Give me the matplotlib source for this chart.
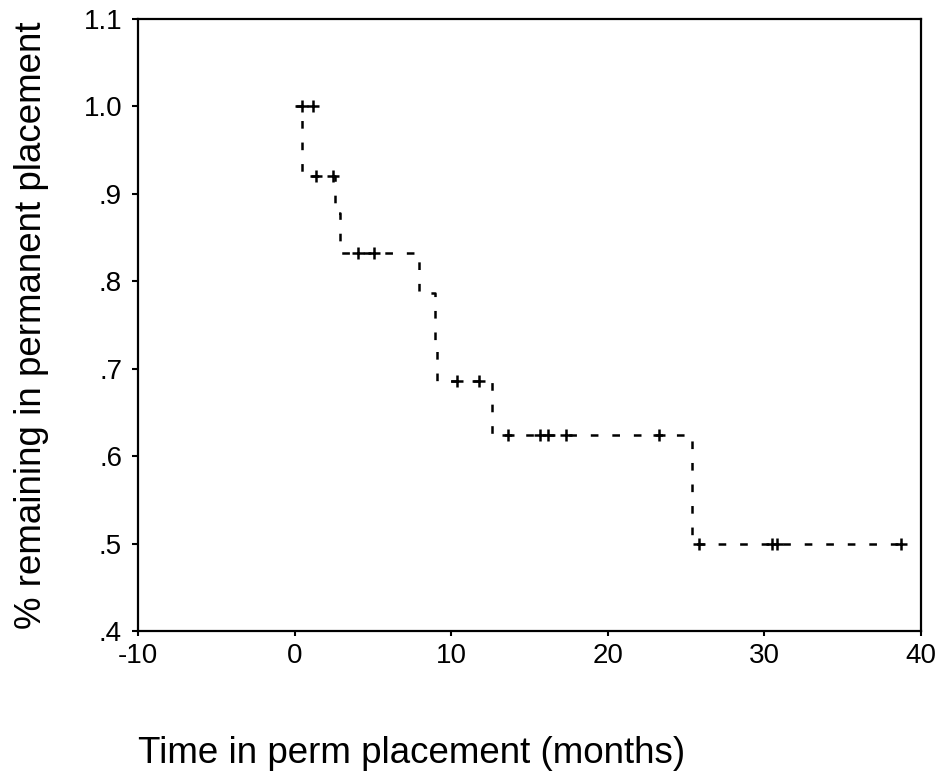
import numpy as np
import matplotlib
matplotlib.use('Agg')
import matplotlib.pyplot as plt

plt.rcParams['font.family'] = ['Liberation Sans', 'DejaVu Sans']
plt.rcParams['lines.scale_dashes'] = False

# Kaplan-Meier step: event times and survival level after each event
event_times = [0.5, 2.56, 2.88, 7.92, 8.95, 9.07, 12.6, 25.4]
surv_after = [0.920, 0.878, 0.832, 0.787, 0.733, 0.686, 0.624, 0.500]
end_time = 38.7

# censored observations (time, level)
cens_times = [0.5, 1.2, 1.34, 2.43, 4.03, 5.05, 10.4, 11.8,
              13.6, 15.65, 16.2, 17.3, 23.3, 25.8, 30.5, 30.8, 38.7]
cens_levels = [1.0, 1.0, 0.920, 0.920, 0.832, 0.832, 0.686, 0.686,
               0.624, 0.624, 0.624, 0.624, 0.624, 0.500, 0.500, 0.500, 0.500]

x_ticks = [-10, 0, 10, 20, 30, 40]
y_ticks = [0.4, 0.5, 0.6, 0.7, 0.8, 0.9, 1.0, 1.1]
y_ticklabels = ['.4', '.5', '.6', '.7', '.8', '.9', '1.0', '1.1']

# build step path
xs = [0.0] + event_times + [end_time]
ys = [1.0] + surv_after + [surv_after[-1]]

fig = plt.figure(figsize=(9.38, 7.73), dpi=100)
ax = fig.add_axes([138 / 938, 1 - 631 / 773, 783 / 938, 612 / 773])

ax.step(xs, ys, where='post', color='black', lw=1.8, linestyle=(0, (5.5, 10)))
ax.plot(cens_times, cens_levels, linestyle='none', marker='+', color='black',
        markersize=9, markeredgewidth=1.8)

ax.set_xlim(-10, 40)
ax.set_ylim(0.4, 1.1)
ax.set_xticks(x_ticks)
ax.set_xticklabels([str(t) for t in x_ticks])
ax.set_yticks(y_ticks)
ax.set_yticklabels(y_ticklabels)

for s in ax.spines.values():
    s.set_linewidth(1.6)
ax.tick_params(axis='both', direction='out', width=1.5, labelsize=20)
ax.tick_params(axis='y', length=4.5, pad=7)
ax.tick_params(axis='x', length=3.5, pad=5)

fig.text(412 / 938, 1 - 763 / 773, 'Time in perm placement (months)',
         fontsize=26.5, ha='center', va='baseline')
fig.text(32 / 938, 1 - 325 / 773, '% remaining in permanent placement',
         fontsize=26.5, ha='center', va='center', rotation=90)

fig.savefig('out.png', dpi=100)
